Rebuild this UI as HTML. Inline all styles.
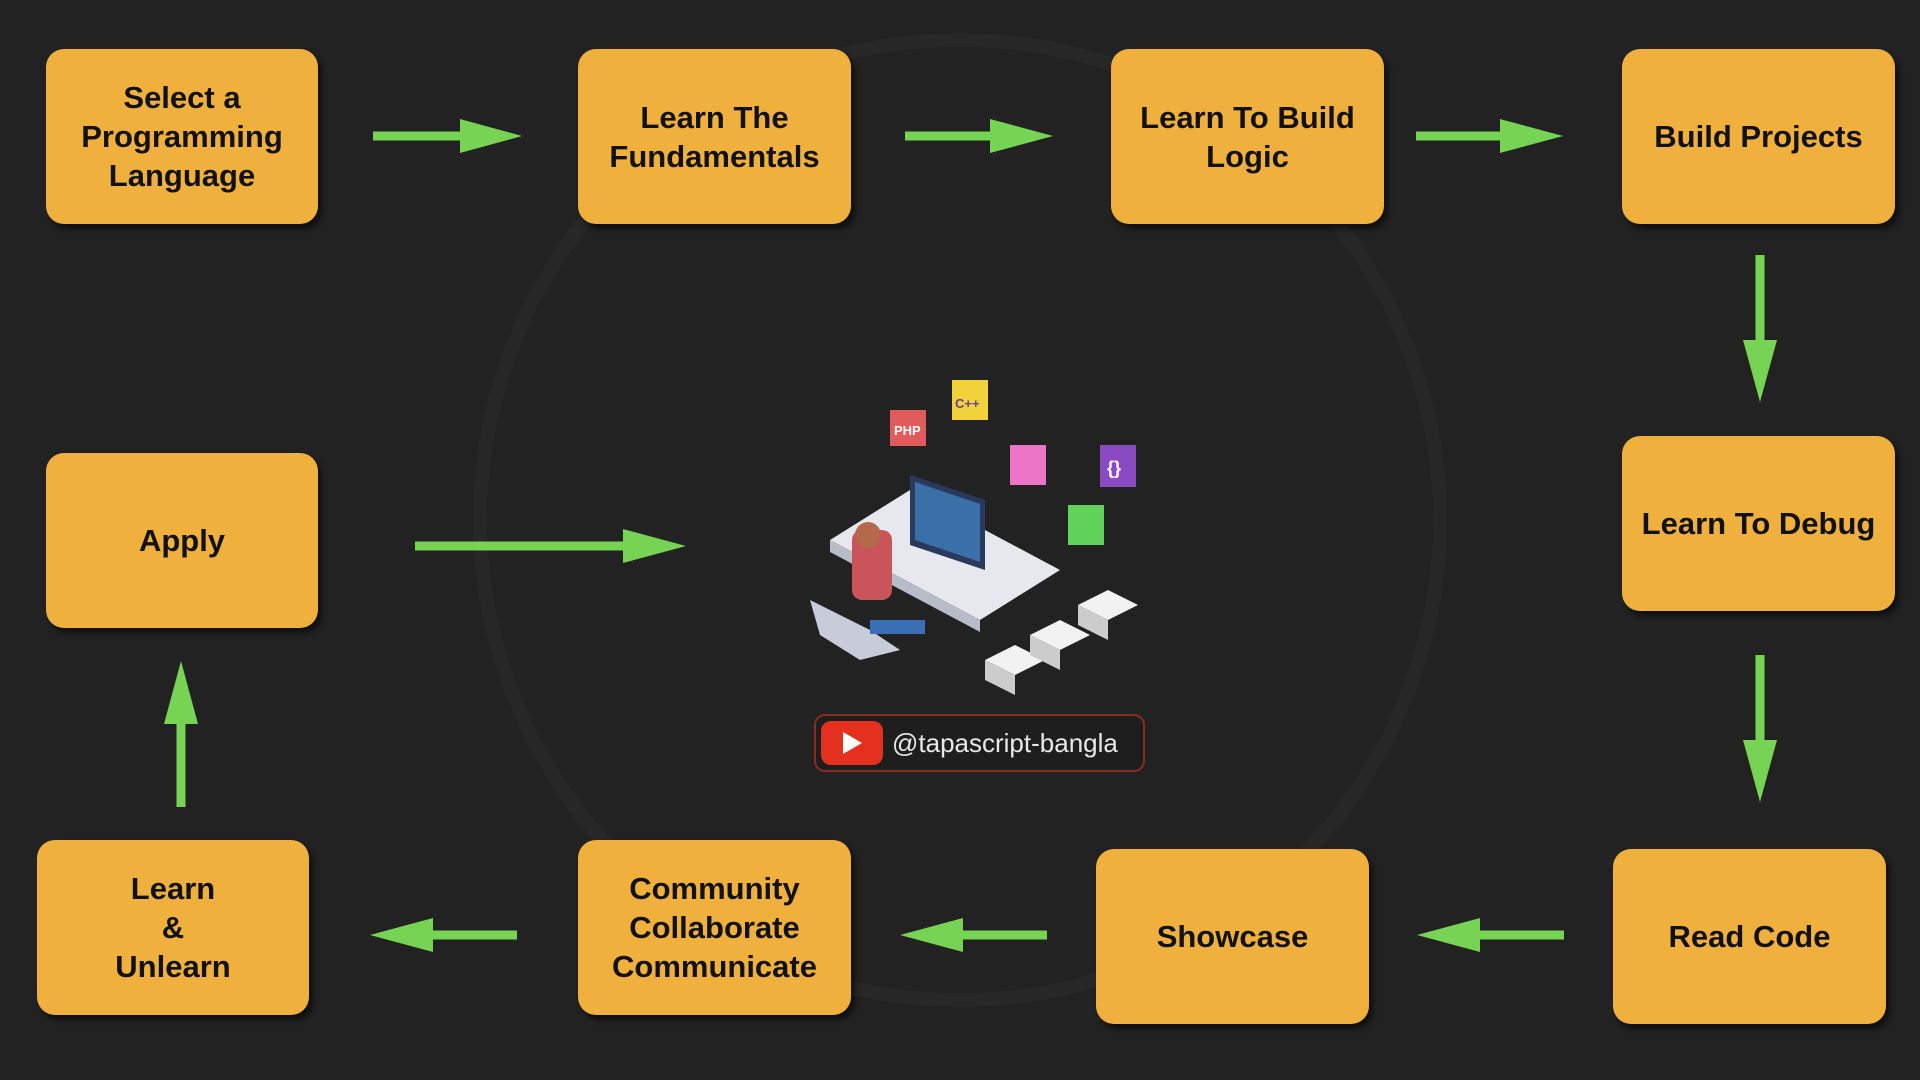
<!DOCTYPE html>
<html><head><meta charset="utf-8"><style>
html,body{margin:0;padding:0;background:#222222;width:1920px;height:1080px;overflow:hidden}
.b{position:absolute;background:#f0b03e;border-radius:18px;box-shadow:4px 5px 6px rgba(0,0,0,.55);display:flex;align-items:center;justify-content:center;text-align:center;font:bold 31px/39px "Liberation Sans",sans-serif;color:#111}
</style></head><body>
<svg width="1920" height="1080" style="position:absolute;left:0;top:0">
<circle cx="960" cy="520" r="480" fill="none" stroke="#272727" stroke-width="14"/>
<g fill="#77d353" stroke="#77d353">
<line x1="373" y1="136" x2="470" y2="136" stroke-width="9"/><polygon points="460,119 522,136 460,153" stroke="none"/>
<line x1="905" y1="136" x2="1000" y2="136" stroke-width="9"/><polygon points="990,119 1053,136 990,153" stroke="none"/>
<line x1="1416" y1="136" x2="1510" y2="136" stroke-width="9"/><polygon points="1500,119 1563,136 1500,153" stroke="none"/>
<line x1="1760" y1="255" x2="1760" y2="345" stroke-width="9"/><polygon points="1743,340 1760,402 1777,340" stroke="none"/>
<line x1="1760" y1="655" x2="1760" y2="745" stroke-width="9"/><polygon points="1743,740 1760,802 1777,740" stroke="none"/>
<line x1="1564" y1="935" x2="1470" y2="935" stroke-width="9"/><polygon points="1480,918 1417,935 1480,952" stroke="none"/>
<line x1="1047" y1="935" x2="950" y2="935" stroke-width="9"/><polygon points="963,918 900,935 963,952" stroke="none"/>
<line x1="517" y1="935" x2="420" y2="935" stroke-width="9"/><polygon points="433,918 370,935 433,952" stroke="none"/>
<line x1="181" y1="807" x2="181" y2="715" stroke-width="9"/><polygon points="164,724 181,661 198,724" stroke="none"/>
<line x1="415" y1="546" x2="630" y2="546" stroke-width="9"/><polygon points="623,529 686,546 623,563" stroke="none"/>
</g>
<!-- illustration -->
<polygon points="830,540 910,490 1060,570 980,620" fill="#e6e8ee"/>
<polygon points="830,540 980,620 980,632 830,552" fill="#b8bcc8"/>
<polygon points="910,475 985,500 985,570 910,545" fill="#2a3a5c"/>
<polygon points="915,482 980,504 980,562 915,540" fill="#3a6fa8"/>
<rect x="852" y="530" width="40" height="70" rx="10" fill="#c9545a"/>
<circle cx="868" cy="535" r="13" fill="#b46a4a"/>
<polygon points="810,600 870,630 900,650 860,660 820,635" fill="#c8ccd8"/>
<rect x="870" y="620" width="55" height="14" fill="#3a6fb5"/>
<rect x="890" y="410" width="36" height="36" fill="#e05b5b"/><text x="894" y="435" font-family="Liberation Sans" font-size="13" font-weight="bold" fill="#fff">PHP</text>
<rect x="952" y="380" width="36" height="40" fill="#f1d23a"/><text x="955" y="408" font-family="Liberation Sans" font-size="13" font-weight="bold" fill="#6a3fa0">C++</text>
<rect x="1010" y="445" width="36" height="40" fill="#ec75c8"/>
<rect x="1100" y="445" width="36" height="42" fill="#8a4bc2"/><text x="1107" y="474" font-family="Liberation Sans" font-size="18" font-weight="bold" fill="#fff">{}</text>
<rect x="1068" y="505" width="36" height="40" fill="#62d35a"/>
<polygon points="985,660 1015,645 1045,660 1015,675" fill="#f2f2f2"/><polygon points="985,660 1015,675 1015,695 985,680" fill="#ccc"/>
<polygon points="1030,635 1060,620 1090,635 1060,650" fill="#f2f2f2"/><polygon points="1030,635 1060,650 1060,670 1030,655" fill="#ccc"/>
<polygon points="1078,605 1108,590 1138,605 1108,620" fill="#f2f2f2"/><polygon points="1078,605 1108,620 1108,640 1078,625" fill="#ccc"/>
<rect x="815" y="715" width="329" height="56" rx="10" fill="#1e1e1e" stroke="#8a2b22" stroke-width="2"/>
<rect x="821" y="721" width="62" height="44" rx="10" fill="#e3301f"/>
<polygon points="843,732 843,754 862,743" fill="#fff"/>
<text x="892" y="752" font-family="Liberation Sans" font-size="26" fill="#e8e8e8">@tapascript-bangla</text>
</svg>
<div class="b" style="left:46px;top:49px;width:272px;height:175px">Select a<br>Programming<br>Language</div>
<div class="b" style="left:578px;top:49px;width:273px;height:175px">Learn The<br>Fundamentals</div>
<div class="b" style="left:1111px;top:49px;width:273px;height:175px">Learn To Build<br>Logic</div>
<div class="b" style="left:1622px;top:49px;width:273px;height:175px">Build Projects</div>
<div class="b" style="left:1622px;top:436px;width:273px;height:175px">Learn To Debug</div>
<div class="b" style="left:1613px;top:849px;width:273px;height:175px">Read Code</div>
<div class="b" style="left:1096px;top:849px;width:273px;height:175px">Showcase</div>
<div class="b" style="left:578px;top:840px;width:273px;height:175px">Community<br>Collaborate<br>Communicate</div>
<div class="b" style="left:37px;top:840px;width:272px;height:175px">Learn<br>&amp;<br>Unlearn</div>
<div class="b" style="left:46px;top:453px;width:272px;height:175px">Apply</div>
</body></html>
